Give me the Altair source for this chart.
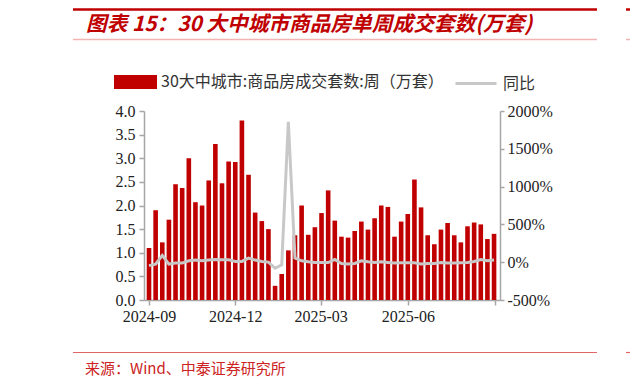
import altair as alt
import pandas as pd

# ---- data ----
start_week = "2024-09-01"
n_weeks = 53
weeks = [d.strftime("%Y-%m-%d") for d in pd.date_range(start_week, periods=n_weeks, freq="7D")]

volume = [1.10, 1.90, 1.22, 1.70, 2.45, 2.37, 3.00, 2.07, 2.00, 2.53,
          3.30, 2.47, 2.93, 2.92, 3.80, 2.65, 1.85, 1.67, 1.50, 0.30,
          0.55, 1.05, 1.37, 2.00, 1.38, 1.54, 1.84, 2.32, 1.68, 1.34,
          1.32, 1.46, 1.66, 1.49, 1.73, 2.00, 1.97, 1.34, 1.66, 1.82,
          2.55, 1.96, 1.37, 1.18, 1.49, 1.63, 1.37, 1.22, 1.56, 1.64,
          1.60, 1.29, 1.40]

yoy = [-45, -25, 90, -25, -12, -12, 19, 28, 19, 28,
       36, 32, 32, 10, 10, 54, 28, 10, 1, -80,
       -35, 1858, 55, 19, 5, -4, -4, -4, 36, -17,
       -25, -17, 19, 5, -4, 5, -4, -12, -8, -8,
       -8, -25, -17, -17, -4, -12, -12, -8, -4, 10,
       36, 19, 28]

x_tick_dates = [(2024, 9), (2024, 12), (2025, 3), (2025, 6), (2025, 9)]
left_ticks = [0.0, 0.5, 1.0, 1.5, 2.0, 2.5, 3.0, 3.5, 4.0]
right_ticks = [-500, 0, 500, 1000, 1500, 2000]

BAR_NAME = "30大中城市:商品房成交套数:周（万套）"
LINE_NAME = "同比"
TITLE = "图表 15：30 大中城市商品房单周成交套数(万套)"
SOURCE = "来源：Wind、中泰证券研究所"

RED = "#c00000"
GRAY_LINE = "#c8c8c8"
AXIS_GRAY = "#a6a6a6"
SERIF = "Liberation Serif"
CJK = "Noto Sans CJK SC"

df = pd.DataFrame({"week": weeks, "volume": volume, "yoy": yoy,
                   "s1": BAR_NAME, "s2": LINE_NAME})


def dt(y, m):
    return alt.DateTime(year=y, month=m, date=1, utc=True)


x_enc = alt.X(
    "week:T",
    scale=alt.Scale(type="utc", domain=[dt(2024, 9), dt(2025, 9)]),
    axis=alt.Axis(
        values=[dt(y, m) for y, m in x_tick_dates],
        labelExpr="utcFormat(datum.value, '%Y-%m') == '2025-09' ? '' : utcFormat(datum.value, '%Y-%m')",
        title=None, grid=False, domainColor=AXIS_GRAY, domainWidth=1.5,
        tickColor=AXIS_GRAY, tickWidth=1.5, tickSize=5,
        labelFont=SERIF, labelFontSize=16, labelColor="#222222",
        labelPadding=3, labelFlush=False, labelOverlap=False,
    ),
)

base = alt.Chart(df)

bars = base.mark_bar(size=4.6, clip=True).encode(
    x=x_enc,
    y=alt.Y(
        "volume:Q",
        scale=alt.Scale(domain=[0, 4], nice=False),
        axis=alt.Axis(
            orient="left", values=left_ticks, format=".1f", title=None, grid=False,
            domainColor=AXIS_GRAY, domainWidth=1.5, tickColor=AXIS_GRAY, tickWidth=1.5,
            tickSize=5, labelFont=SERIF, labelFontSize=16, labelColor="#222222",
            labelPadding=4,
        ),
    ),
    fill=alt.Fill(
        "s1:N",
        scale=alt.Scale(domain=[BAR_NAME], range=[RED]),
        legend=alt.Legend(
            orient="none", legendX=-30, legendY=-50.5, title=None, padding=0,
            symbolType="M-1,-0.33H1V0.33H-1Z", symbolSize=1849,
            symbolStrokeWidth=0, symbolOpacity=1, labelLimit=500,
            labelFont=CJK, labelFontSize=16, labelColor="#333333", labelOffset=4,
        ),
    ),
)

line = base.mark_line(strokeWidth=3, clip=True).encode(
    x=x_enc,
    y=alt.Y(
        "yoy:Q",
        scale=alt.Scale(domain=[-500, 2000], nice=False),
        axis=alt.Axis(
            orient="right", values=right_ticks, labelExpr="datum.value + '%'",
            title=None, grid=False, domainColor=AXIS_GRAY, domainWidth=1.5,
            tickColor=AXIS_GRAY, tickWidth=1.5, tickSize=4,
            labelFont=SERIF, labelFontSize=16, labelColor="#222222", labelPadding=3,
        ),
    ),
    stroke=alt.Stroke(
        "s2:N",
        scale=alt.Scale(domain=[LINE_NAME], range=[GRAY_LINE]),
        legend=alt.Legend(
            orient="none", legendX=310, legendY=-49.5, title=None, padding=0,
            symbolType="stroke", symbolSize=1681, symbolStrokeWidth=3,
            labelFont=CJK, labelFontSize=16, labelColor="#333333", labelOffset=5,
        ),
    ),
)

one = alt.Chart(pd.DataFrame({"k": [0]}))

title_txt = one.mark_text(
    text=TITLE, font=CJK, fontSize=20.7, fontWeight="bold", fontStyle="italic",
    color=RED, align="left", baseline="middle",
).encode(x=alt.value(-58), y=alt.value(-86))

top_rule = one.mark_rule(color=RED, strokeWidth=2.5).encode(
    x=alt.value(-71), x2=alt.value(453), y=alt.value(-101.5))
top_rule_r = one.mark_rule(color=RED, strokeWidth=2.5).encode(
    x=alt.value(482), x2=alt.value(490), y=alt.value(-101.5))
pink_rule = one.mark_rule(color="#f2b3b3", strokeWidth=1.5).encode(
    x=alt.value(-71), x2=alt.value(453), y=alt.value(-71.5))
pink_rule_r = one.mark_rule(color="#f2b3b3", strokeWidth=1.5).encode(
    x=alt.value(482), x2=alt.value(490), y=alt.value(-71.5))
bottom_rule = one.mark_rule(color="#e06666", strokeWidth=1.2).encode(
    x=alt.value(-71), x2=alt.value(453), y=alt.value(241.5))
bottom_rule_r = one.mark_rule(color="#e06666", strokeWidth=1.2).encode(
    x=alt.value(482), x2=alt.value(490), y=alt.value(241.5))

source_txt = one.mark_text(
    text=SOURCE, font=CJK, fontSize=15, color="#cc2222",
    align="left", baseline="middle",
).encode(x=alt.value(-59), y=alt.value(258))

chart = alt.layer(
    bars, line, title_txt, top_rule, top_rule_r, pink_rule, pink_rule_r,
    bottom_rule, bottom_rule_r, source_txt,
).resolve_scale(
    y="independent", fill="independent", stroke="independent"
).properties(
    width=356, height=189,
    autosize=alt.AutoSizeParams(type="none"),
    padding={"left": 136, "top": 103, "right": 130, "bottom": 80},
    background="white",
).configure_view(stroke=None)

chart.save("out.html", embed_options={"renderer": "svg", "actions": False})
